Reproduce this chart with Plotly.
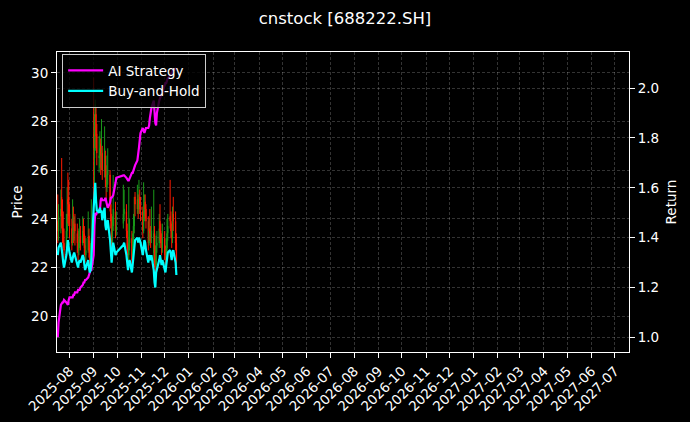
import pandas as pd
import plotly.graph_objects as go

# ---------------- data ----------------
holidays = ["2025-10-01", "2025-10-02", "2025-10-03", "2025-10-06", "2025-10-07", "2025-10-08"]
dates = pd.bdate_range("2025-07-17", "2025-12-16", freq="C", holidays=holidays)

open_ = [23.9, 23.5, 24.1, 24.9, 24.2, 23.6, 23.0, 22.8, 23.5, 24.8,
         24.9, 24.2, 23.6, 23.0, 23.9, 23.4, 23.8, 23.4, 23.0, 22.7,
         23.0, 23.3, 23.0, 23.7, 23.4, 22.9, 22.5, 22.7, 23.3, 22.8,
         22.3, 22.5, 27.5, 26.5, 28.2, 28.3, 27.5, 26.5, 26.6, 27.1,
         26.3, 26.7, 26.0, 26.6, 25.6, 25.3, 25.8, 25.8, 24.6, 23.9,
         23.0, 23.7, 24.3, 23.5, 23.8, 24.2, 24.3, 23.5, 22.8, 22.5,
         23.0, 23.2, 22.3, 23.0, 23.7, 24.9, 24.4, 24.8, 24.4, 24.9,
         24.6, 24.3, 23.5, 24.1, 24.7, 24.4, 23.9, 23.0, 23.6, 23.4,
         23.2, 22.6, 23.4, 22.3, 22.1, 22.9, 23.0, 23.9, 23.5, 23.0,
         22.8, 23.2, 22.5, 22.3, 22.8, 23.4, 24.1, 23.9, 23.5, 23.2,
         24.2, 23.9, 23.0]
high = [25.0, 24.6, 25.2, 26.5, 24.8, 24.3, 23.6, 24.2, 25.3, 25.9,
        25.6, 24.6, 24.0, 24.8, 24.5, 24.1, 24.2, 23.8, 23.5, 23.6,
        24.0, 23.7, 24.1, 24.0, 23.7, 23.3, 23.2, 24.3, 23.6, 23.1,
        23.0, 24.8, 29.8, 28.3, 28.9, 28.6, 27.9, 27.4, 27.6, 27.3,
        28.1, 27.0, 27.8, 26.8, 26.2, 26.6, 26.9, 26.0, 24.9, 24.2,
        24.1, 25.8, 24.7, 24.3, 25.4, 25.2, 24.6, 23.8, 23.2, 25.3,
        24.0, 23.5, 23.4, 24.2, 24.9, 25.1, 25.4, 25.0, 25.6, 25.2,
        24.9, 24.5, 25.5, 25.0, 25.0, 24.6, 24.1, 24.0, 24.4, 23.7,
        24.5, 25.2, 23.7, 22.9, 23.3, 23.5, 24.2, 24.6, 23.8, 23.4,
        23.8, 23.5, 22.9, 23.2, 24.0, 24.2, 25.6, 24.3, 23.8, 24.5,
        24.9, 24.3, 23.4]
low = [23.0, 23.1, 23.4, 23.6, 23.0, 22.8, 22.4, 22.6, 23.2, 23.8,
       23.7, 23.2, 22.7, 22.9, 23.0, 23.1, 22.9, 22.6, 22.3, 22.5,
       22.8, 22.7, 22.9, 23.0, 22.5, 22.2, 22.3, 22.6, 22.4, 22.1,
       22.1, 22.4, 23.6, 25.4, 26.8, 26.9, 26.2, 25.9, 26.1, 25.8,
       26.0, 25.6, 25.7, 25.3, 24.8, 25.1, 25.4, 24.3, 23.6, 22.8,
       22.9, 23.5, 23.2, 23.3, 23.6, 23.9, 23.2, 22.5, 22.0, 22.3,
       22.7, 21.9, 22.1, 22.8, 23.4, 24.1, 24.2, 24.0, 24.2, 24.2,
       23.9, 23.2, 23.4, 23.9, 24.0, 23.6, 22.7, 22.9, 23.1, 22.8,
       23.0, 22.2, 22.0, 21.8, 22.0, 22.6, 22.8, 23.1, 22.8, 22.5,
       22.6, 22.3, 22.0, 22.1, 22.6, 23.1, 23.6, 23.2, 22.8, 23.0,
       23.5, 22.7, 22.0]
close = [23.5, 24.1, 24.4, 24.1, 23.5, 23.0, 22.7, 23.5, 24.2, 24.6,
         24.1, 23.7, 23.0, 23.4, 23.5, 23.7, 23.5, 23.0, 22.7, 23.0,
         23.2, 23.0, 23.5, 23.4, 22.8, 22.5, 22.7, 23.2, 22.7, 22.3,
         22.5, 23.2, 26.9, 28.0, 28.7, 27.4, 26.7, 26.6, 26.9, 26.6,
         26.7, 26.0, 26.9, 25.7, 25.3, 25.8, 26.0, 24.6, 23.9, 23.0,
         23.7, 24.4, 23.5, 23.7, 24.2, 24.4, 23.5, 22.8, 22.5, 23.0,
         23.2, 22.3, 23.0, 23.7, 24.1, 24.6, 24.8, 24.4, 24.8, 24.6,
         24.4, 23.5, 24.1, 24.6, 24.4, 23.9, 23.0, 23.5, 23.4, 23.2,
         23.5, 23.4, 22.3, 22.1, 22.9, 23.0, 23.6, 23.5, 23.0, 22.8,
         23.2, 22.5, 22.3, 22.8, 23.4, 23.7, 23.9, 23.5, 23.2, 23.7,
         23.9, 23.0, 22.2]

ai_strategy = [1.00, 1.06, 1.13, 1.14, 1.14, 1.14, 1.15, 1.14, 1.13, 1.13,
               1.15, 1.16, 1.16, 1.16, 1.17, 1.17, 1.18, 1.18, 1.19, 1.19,
               1.19, 1.20, 1.21, 1.22, 1.22, 1.23, 1.23, 1.24, 1.25, 1.26,
               1.27, 1.27, 1.33, 1.45, 1.50, 1.49, 1.50, 1.51, 1.51, 1.55,
               1.56, 1.55, 1.55, 1.56, 1.55, 1.54, 1.52, 1.54, 1.56, 1.56,
               1.57, 1.57, 1.62, 1.64, 1.65, 1.65, 1.64, 1.63, 1.63, 1.63,
               1.64, 1.66, 1.66, 1.67, 1.68, 1.69, 1.71, 1.73, 1.76, 1.79,
               1.82, 1.84, 1.83, 1.82, 1.83, 1.84, 1.84, 1.85, 1.88, 1.90,
               1.92, 1.95, 1.90, 1.86, 1.85, 1.90, 1.95, 1.96, 1.97, 1.98,
               1.99, 2.01, 2.02, 2.02, 2.03, 2.04, 2.05, 2.06, 2.06, 2.07,
               2.07, 2.08, 2.08]
buy_and_hold = [1.33, 1.36, 1.38, 1.36, 1.33, 1.30, 1.28, 1.33, 1.37, 1.39,
                1.36, 1.34, 1.30, 1.32, 1.33, 1.34, 1.33, 1.30, 1.28, 1.30,
                1.31, 1.30, 1.33, 1.32, 1.29, 1.27, 1.28, 1.31, 1.28, 1.26,
                1.27, 1.31, 1.52, 1.58, 1.62, 1.55, 1.51, 1.50, 1.52, 1.50,
                1.51, 1.47, 1.52, 1.45, 1.43, 1.46, 1.47, 1.39, 1.35, 1.30,
                1.34, 1.38, 1.33, 1.34, 1.37, 1.38, 1.33, 1.29, 1.27, 1.30,
                1.31, 1.26, 1.30, 1.34, 1.36, 1.39, 1.40, 1.38, 1.40, 1.39,
                1.38, 1.33, 1.36, 1.39, 1.38, 1.35, 1.30, 1.33, 1.32, 1.31,
                1.33, 1.27, 1.22, 1.20, 1.26, 1.27, 1.31, 1.33, 1.30, 1.29,
                1.31, 1.27, 1.26, 1.29, 1.32, 1.34, 1.35, 1.33, 1.31, 1.34,
                1.35, 1.30, 1.25]

month_ticks = ["2025-08", "2025-09", "2025-10", "2025-11", "2025-12", "2026-01",
               "2026-02", "2026-03", "2026-04", "2026-05", "2026-06", "2026-07",
               "2026-08", "2026-09", "2026-10", "2026-11", "2026-12", "2027-01",
               "2027-02", "2027-03", "2027-04", "2027-05", "2027-06", "2027-07"]
price_ticks = [20, 22, 24, 26, 28, 30]
return_ticks = [1.0, 1.2, 1.4, 1.6, 1.8, 2.0]

# ---------------- figure ----------------
FONT = "DejaVu Sans"
GRID = "rgba(255,255,255,0.2)"
GRID_DASH = "3px,2px"

fig = go.Figure()
fig.add_trace(go.Candlestick(
    x=dates, open=open_, high=high, low=low, close=close,
    increasing=dict(line=dict(color="#1a9a1a", width=1), fillcolor="#1a9a1a"),
    decreasing=dict(line=dict(color="#ff1a00", width=1), fillcolor="#ff1a00"),
    showlegend=False, yaxis="y", hoverinfo="skip"))
fig.add_trace(go.Scatter(x=dates, y=ai_strategy, name="AI Strategy", mode="lines",
                         line=dict(color="#ff00ff", width=2.2), yaxis="y2"))
fig.add_trace(go.Scatter(x=dates, y=buy_and_hold, name="Buy-and-Hold", mode="lines",
                         line=dict(color="#00ffff", width=2.2), yaxis="y2"))

tick_dates = [m + "-01" for m in month_ticks]

fig.update_layout(
    width=690, height=422,
    paper_bgcolor="black", plot_bgcolor="black",
    margin=dict(l=57, r=61, t=52, b=70, autoexpand=False),
    font=dict(family=FONT, color="white", size=13.5),
    title=dict(text="cnstock [688222.SH]", x=0.5, xref="container", xanchor="center",
               y=1 - 18 / 422, yref="container", yanchor="middle",
               font=dict(size=16.5, color="white", family=FONT)),
    showlegend=True,
    legend=dict(x=0.009, y=0.993, xanchor="left", yanchor="top",
                bgcolor="rgba(0,0,0,0.8)", bordercolor="#cccccc", borderwidth=1,
                font=dict(size=13.5, color="white", family=FONT),
                itemwidth=35, traceorder="normal"),
    xaxis=dict(type="date", range=["2025-07-16", "2027-07-19"],
               tickvals=tick_dates, ticktext=month_ticks, tickangle=-45,
               ticks="outside", ticklen=5, tickcolor="white", tickwidth=1,
               showgrid=True, gridcolor=GRID, griddash=GRID_DASH, gridwidth=0.6,
               showline=True, linecolor="white", linewidth=1, mirror=True,
               zeroline=False, rangeslider=dict(visible=False),
               tickfont=dict(size=13.5, color="white", family=FONT)),
    yaxis=dict(range=[18.52, 30.86], tickvals=price_ticks,
               ticks="outside", ticklen=5, tickcolor="white",
               showgrid=True, gridcolor=GRID, griddash=GRID_DASH, gridwidth=0.6,
               showline=True, linecolor="white", linewidth=1, mirror=True,
               zeroline=False,
               title=dict(text="Price", standoff=5, font=dict(size=13.5, color="white", family=FONT)),
               tickfont=dict(size=13.5, color="white", family=FONT)),
    yaxis2=dict(range=[0.941, 2.145], tickvals=return_ticks, tickformat=".1f",
                overlaying="y", side="right",
                ticks="outside", ticklen=5, tickcolor="white",
                showgrid=True, gridcolor=GRID, griddash=GRID_DASH, gridwidth=0.6,
                showline=True, linecolor="white", linewidth=1,
                zeroline=False,
                title=dict(text="Return", standoff=8, font=dict(size=13.5, color="white", family=FONT)),
                tickfont=dict(size=13.5, color="white", family=FONT)),
)

fig.write_html("out.html",
               config={"displayModeBar": False},
               post_script="document.body.style.margin='0px';document.body.style.padding='0px';"
                           "document.documentElement.style.background='black';document.body.style.background='black';")
